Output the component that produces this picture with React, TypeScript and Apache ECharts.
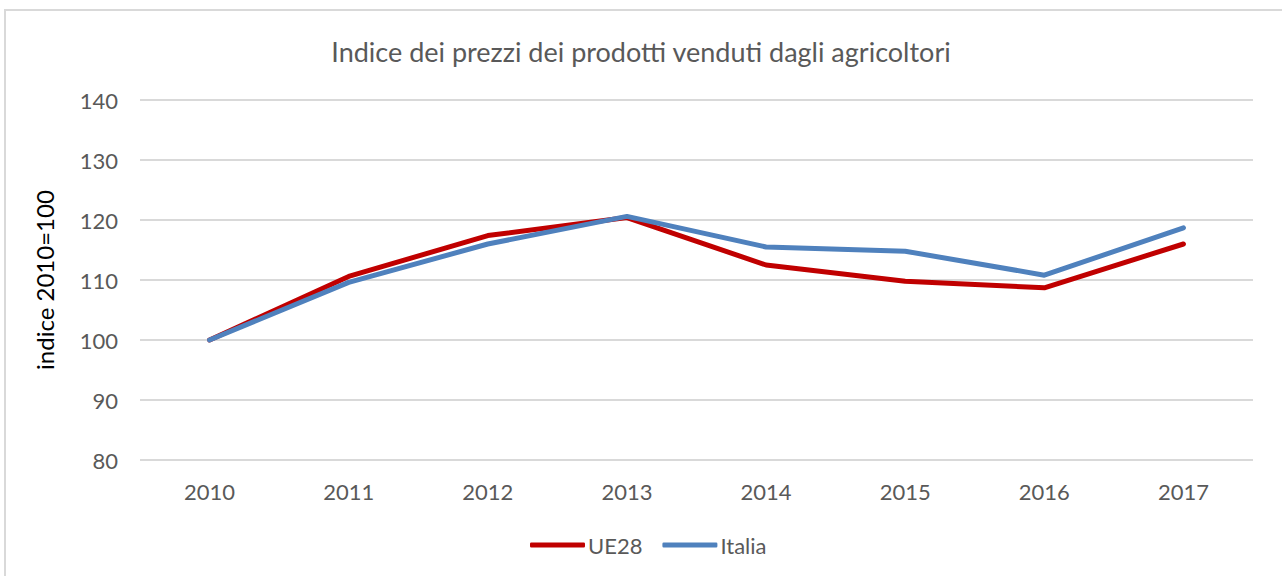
import React, { useEffect, useRef } from "react";
import * as echarts from "echarts";

const years = ["2010", "2011", "2012", "2013", "2014", "2015", "2016", "2017"];
const ue28 = [100, 110.6, 117.4, 120.4, 112.5, 109.8, 108.7, 116];
const italia = [100, 109.6, 116, 120.6, 115.5, 114.8, 110.8, 118.7];
const title = "Indice dei prezzi dei prodotti venduti dagli agricoltori";
const yName = "indice 2010=100";

const FONT = "Lato, 'Open Sans', sans-serif";

export default function App() {
  const ref = useRef<HTMLDivElement>(null);
  useEffect(() => {
    if (!ref.current) return;
    const chart = echarts.init(ref.current, null, { renderer: "svg" });
    chart.setOption({
      animation: false,
      backgroundColor: "#ffffff",
      title: {
        text: title,
        left: "center",
        top: 33,
        textStyle: { fontFamily: FONT, fontSize: 27, fontWeight: "normal", color: "#595959" },
      },
      graphic: [
        {
          type: "rect",
          shape: { x: 5, y: 10, width: 1300, height: 600 },
          style: { fill: "none", stroke: "#d9d9d9", lineWidth: 2 },
          silent: true,
        },
      ],
      legend: {
        bottom: 20,
        left: 530,
        padding: 0,
        itemWidth: 55,
        itemHeight: 5,
        itemGap: 20,
        icon: "roundRect",
        textStyle: { fontFamily: FONT, fontSize: 22, color: "#595959", padding: [0, 0, 0, -2] },
        data: ["UE28", "Italia"],
      },
      grid: { left: 140, right: 29, top: 100, bottom: 116 },
      xAxis: {
        type: "category",
        data: years,
        boundaryGap: true,
        axisLine: { show: false },
        axisTick: { show: false },
        axisLabel: { fontFamily: FONT, fontSize: 22, color: "#595959", margin: 20 },
      },
      yAxis: {
        type: "value",
        min: 80,
        max: 140,
        interval: 10,
        name: yName,
        nameLocation: "middle",
        nameGap: 84,
        nameRotate: 90,
        nameTextStyle: { fontFamily: FONT, fontSize: 24, color: "#000000" },
        axisLine: { show: false },
        axisTick: { show: false },
        axisLabel: { fontFamily: FONT, fontSize: 22, color: "#595959", margin: 22 },
        splitLine: { lineStyle: { color: "#d9d9d9", width: 2 } },
      },
      series: [
        {
          name: "UE28",
          type: "line",
          data: ue28,
          symbol: "none",
          lineStyle: { color: "#C00000", width: 5, cap: "round", join: "round" },
          itemStyle: { color: "#C00000" },
        },
        {
          name: "Italia",
          type: "line",
          data: italia,
          symbol: "none",
          lineStyle: { color: "#4F81BD", width: 5, cap: "round", join: "round" },
          itemStyle: { color: "#4F81BD" },
        },
      ],
    });
    return () => chart.dispose();
  }, []);
  return (
    <div
      ref={ref}
      style={{ position: "fixed", left: 0, top: 0, width: 1282, height: 576 }}
    />
  );
}
